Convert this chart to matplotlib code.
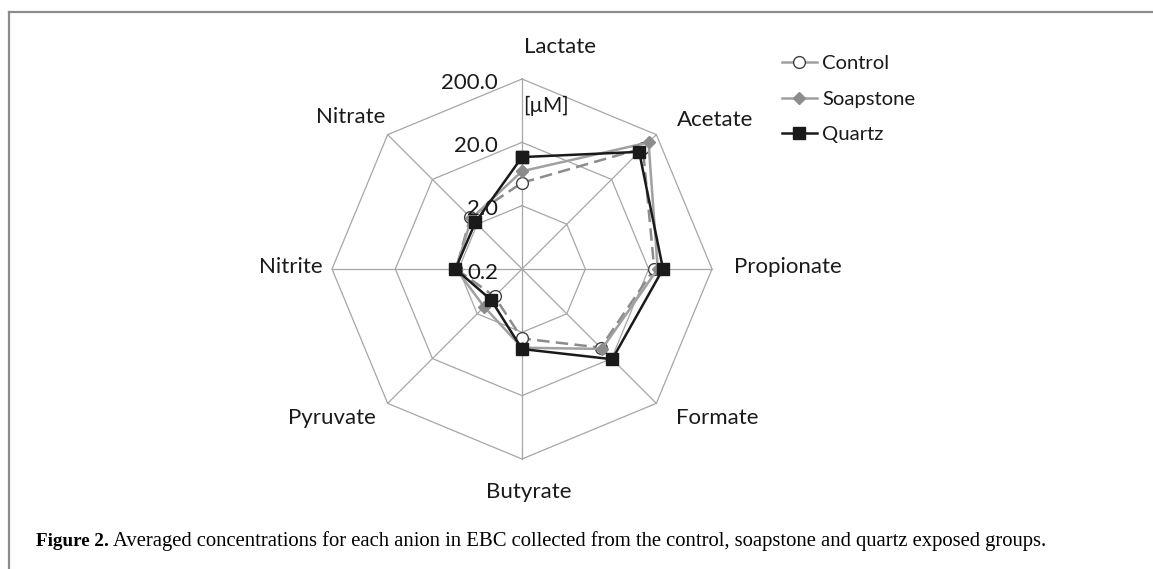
import numpy as np
import matplotlib
matplotlib.use("Agg")
import matplotlib.pyplot as plt
from matplotlib.lines import Line2D

# ----------------------------
# Data (concentrations in uM)
# ----------------------------
anions = ["Lactate", "Acetate", "Propionate", "Formate",
          "Butyrate", "Pyruvate", "Nitrite", "Nitrate"]
control = [4.6, 100.0, 24.5, 11.4, 2.5, 0.82, 2.2, 2.85]
soapstone = [7.0, 134.0, 27.8, 12.2, 3.5, 1.4, 2.2, 2.7]
quartz = [11.7, 82.6, 33.7, 20.7, 3.67, 0.98, 2.25, 2.2]
ring_values = [0.2, 2.0, 20.0, 200.0]
ring_labels = ["0.2", "2.0", "20.0", "200.0"]

VMIN, NDEC = 0.2, 3.0  # log radial axis: 0.2 .. 200

def to_r(v):
    return np.log10(np.asarray(v, dtype=float) / VMIN) / NDEC

n = len(anions)
theta = np.pi / 2 - 2 * np.pi * np.arange(n) / n  # clockwise from top

def xy(vals):
    r = to_r(vals)
    x = r * np.cos(theta)
    y = r * np.sin(theta)
    return np.append(x, x[0]), np.append(y, y[0])

# ----------------------------
# Figure: 190 px per unit radius, centre at (522, 269) px from top-left
# ----------------------------
W, H, DPI = 1153, 569, 100
cx, cy, R = 522, 269, 190
plt.rcParams["font.family"] = ["Lato", "DejaVu Sans"]
fig = plt.figure(figsize=(W / DPI, H / DPI), dpi=DPI)
ax = fig.add_axes([0, 0, 1, 1])
ax.set_xlim(-cx / R, (W - cx) / R)
ax.set_ylim(-(H - cy) / R, cy / R)
ax.axis("off")

grid_c = "#a6a6a6"
for rv in ring_values[1:]:
    rr = to_r(rv)
    ax.plot(np.append(rr * np.cos(theta), rr * np.cos(theta[0])),
            np.append(rr * np.sin(theta), rr * np.sin(theta[0])),
            color=grid_c, lw=0.9, zorder=1)
for t in theta:
    ax.plot([0, np.cos(t)], [0, np.sin(t)], color=grid_c, lw=0.9, zorder=1)

# series
x, y = xy(control)
ax.plot(x, y, color="#8c8c8c", lw=1.8, ls=(0, (5, 2.5)), zorder=3)
ax.plot(x[:-1], y[:-1], ls="none", marker="o", ms=8.5, mfc="white",
        mec="#404040", mew=1.0, zorder=4)
x, y = xy(soapstone)
ax.plot(x, y, color="#a0a0a0", lw=1.8, marker="D", ms=6, mfc="#8c8c8c",
        mec="#8c8c8c", zorder=5)
x, y = xy(quartz)
ax.plot(x, y, color="#1a1a1a", lw=1.8, marker="s", ms=9, mfc="#1a1a1a",
        mec="#1a1a1a", zorder=6)

txt_c = "#1a1a1a"
# radial tick labels
for rv, lab in zip(ring_values, ring_labels):
    ax.text(-0.126, to_r(rv) - 0.02, lab, ha="right", va="center",
            fontsize=16, color=txt_c, zorder=7)
ax.text(0.005, 0.86, "[\u00b5M]", ha="left", va="center", fontsize=15,
        color=txt_c)

# category labels (Excel-style placement)
label_pos = [(0.20, 1.17), (1.016, 0.784), (1.40, 0.01), (1.026, -0.784),
             (0.037, -1.174), (-1.0, -0.784), (-1.216, 0.01), (-0.90, 0.80)]
for lab, (lx, ly) in zip(anions, label_pos):
    ax.text(lx, ly, lab, ha="center", va="center", fontsize=16, color=txt_c)

# legend
handles = [
    Line2D([], [], color="#a0a0a0", lw=1.8, marker="o", ms=8.5,
           mfc="white", mec="#404040", mew=1.0),
    Line2D([], [], color="#a0a0a0", lw=1.8, marker="D", ms=6,
           mfc="#8c8c8c", mec="#8c8c8c"),
    Line2D([], [], color="#1a1a1a", lw=1.8, marker="s", ms=9,
           mfc="#1a1a1a", mec="#1a1a1a"),
]
fig.legend(handles, ["Control", "Soapstone", "Quartz"], loc="upper left",
           bbox_to_anchor=(782 / W, 1 - 55 / H), frameon=False,
           fontsize=14.6, handlelength=1.72, handletextpad=0.25,
           labelspacing=0.9, borderaxespad=0, borderpad=0,
           labelcolor=txt_c)

# border (top and left)
fig.add_artist(Line2D([8.5 / W, 1], [1 - 12 / H, 1 - 12 / H],
                      transform=fig.transFigure, color="#8c8c8c", lw=1.6))
fig.add_artist(Line2D([8.5 / W, 8.5 / W], [0, 1 - 12 / H],
                      transform=fig.transFigure, color="#8c8c8c", lw=1.6))

# caption
cap_font = ["Liberation Serif", "DejaVu Serif"]
t1 = fig.text(36 / W, 1 - 546 / H, "Figure 2.", fontweight="bold",
              family=cap_font, fontsize=13.8, va="baseline", ha="left")
renderer = fig.canvas.get_renderer()
bb = t1.get_window_extent(renderer)
fig.text((bb.x1 + 4) / W, 1 - 546 / H,
         "Averaged concentrations for each anion in EBC collected from the "
         "control, soapstone and quartz exposed groups.",
         family=cap_font, fontsize=14.85, va="baseline", ha="left")

fig.savefig("out.png", dpi=DPI)
